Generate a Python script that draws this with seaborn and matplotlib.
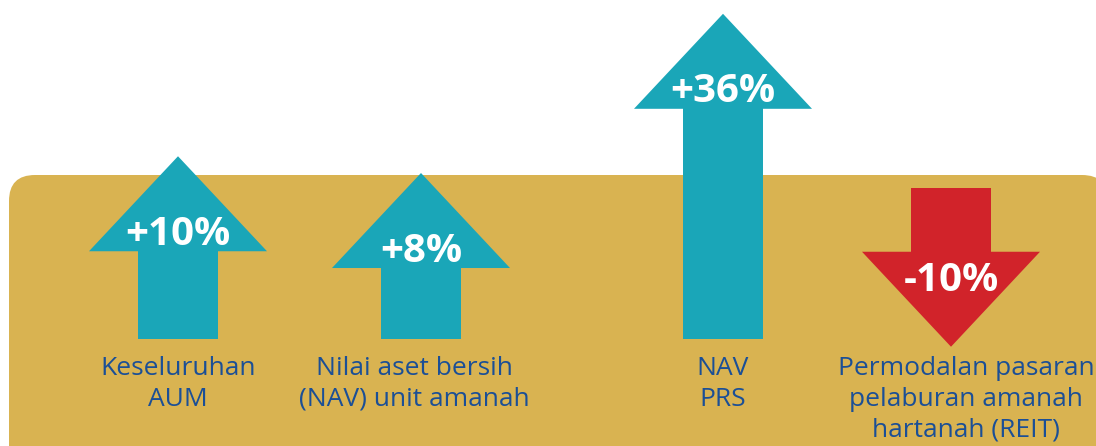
import numpy as np
import matplotlib.pyplot as plt
import seaborn as sns
from matplotlib.patches import Polygon, FancyBboxPatch

# -------------------
# DATA
# -------------------
labels = [
    "Keseluruhan\nAUM",
    "Nilai aset bersih\n(NAV) unit amanah",
    "NAV\nPRS",
    "Permodalan pasaran\npelaburan amanah\nhartanah (REIT)",
]
changes = [10, 8, 36, -10]
change_text = ["+10%", "+8%", "+36%", "-10%"]

# -------------------
# LAYOUT / STYLE (pixel space, y down)
# -------------------
arrow_x = [178, 421, 723, 951]
label_x = [178, 414, 723, 966]
up_base_y = 339       # bottom of up arrows
down_top_y = 188      # top of down arrows
len_scale = 50.2      # arrow length ~ sqrt(|change|)
up_offset = 24
head_w, head_h, shaft_w = 178, 95, 80

teal = "#1aa6b8"
red = "#d1232a"
gold = "#d9b351"
navy = "#1b4f96"

sns.set_theme(style="white")
plt.rcParams['font.family'] = ['Open Sans', 'DejaVu Sans']

fig = plt.figure(figsize=(10.96, 4.46), dpi=100)
ax = fig.add_axes([0, 0, 1, 1])
ax.set_xlim(0, 1096)
ax.set_ylim(446, 0)
ax.axis("off")

# gold panel
panel = FancyBboxPatch((9, 175), 1099, 300,
                       boxstyle="round,pad=0,rounding_size=26",
                       facecolor=gold, edgecolor="none", zorder=1)
ax.add_patch(panel)


def arrow_poly(cx, start, length, up=True):
    s = -1 if up else 1
    tip = start + s * length
    hb = tip - s * head_h
    pts = [
        (cx - shaft_w / 2, start),
        (cx - shaft_w / 2, hb),
        (cx - head_w / 2, hb),
        (cx, tip),
        (cx + head_w / 2, hb),
        (cx + shaft_w / 2, hb),
        (cx + shaft_w / 2, start),
    ]
    return pts, hb


for cx, lx, v, t, lab in zip(arrow_x, label_x, changes, change_text, labels):
    up = v > 0
    if up:
        length = up_offset + len_scale * np.sqrt(abs(v))
        pts, hb = arrow_poly(cx, up_base_y, length, up=True)
        ty = hb - 17
        col = teal
    else:
        length = len_scale * np.sqrt(abs(v))
        pts, hb = arrow_poly(cx, down_top_y, length, up=False)
        ty = hb + 29
        col = red
    ax.add_patch(Polygon(pts, closed=True, facecolor=col, edgecolor="none", zorder=2))
    ax.text(cx, ty, t, color="white", fontsize=29, fontweight="bold",
            ha="center", va="center", zorder=3)
    ax.text(lx, 356, lab, color=navy, fontsize=19, ha="center", va="top",
            linespacing=1.3, zorder=3)

fig.savefig("out.png", dpi=100)
